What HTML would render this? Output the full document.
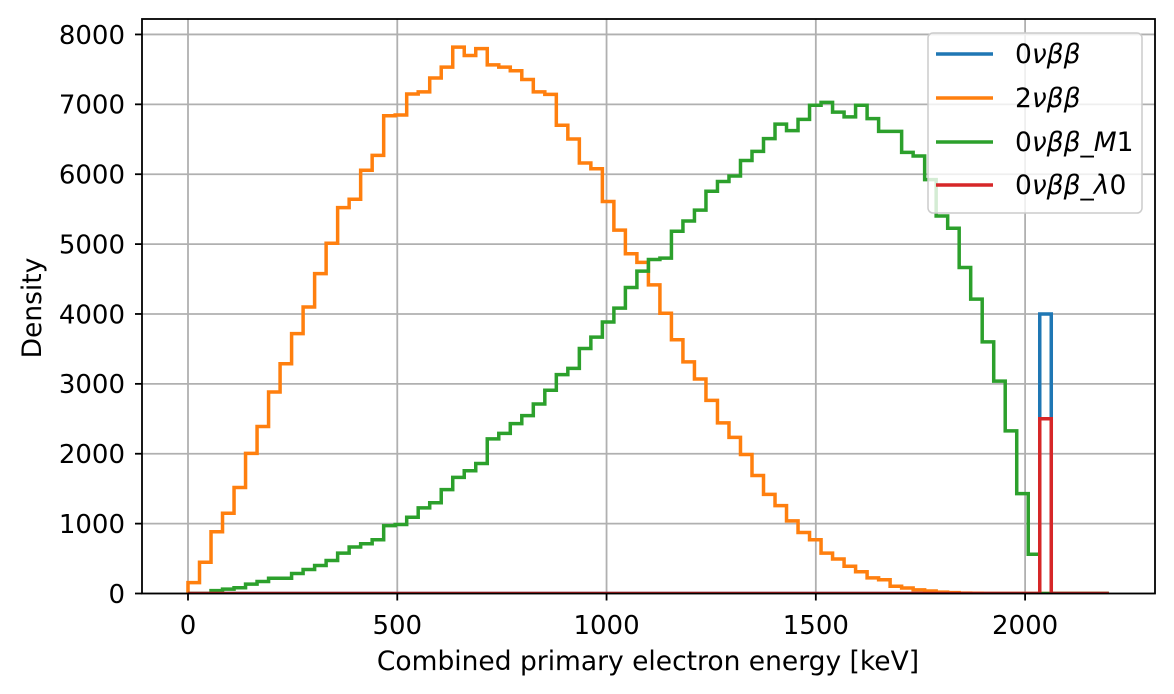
<!DOCTYPE html>
<html><head><meta charset="utf-8"><style>
html,body{margin:0;padding:0;background:#fff;}
svg{display:block;font-family:"DejaVu Sans","Liberation Sans",sans-serif;}
</style></head><body>
<svg id="s" width="1174" height="694" viewBox="0 0 1174 694" xmlns="http://www.w3.org/2000/svg">
<defs><clipPath id="c"><rect x="142" y="19" width="1013" height="575"/></clipPath></defs>
<g id="grid" stroke="#b0b0b0" stroke-width="1.8"></g>
<g id="hist" clip-path="url(#c)" fill="none" stroke-width="3.5" stroke-linejoin="miter"></g>
<rect x="142" y="19" width="1013" height="574.5" fill="none" stroke="#000" stroke-width="1.8"/>
<g id="ticks" stroke="#000" stroke-width="1.8"></g>
<g id="labels" font-size="26" fill="#000"></g>
<text x="648" y="670" font-size="26.5" text-anchor="middle">Combined primary electron energy [keV]</text>
<text transform="translate(41,308) rotate(-90)" font-size="26.5" text-anchor="middle">Density</text>
<g>
<rect x="928" y="33" width="214" height="180" rx="5" fill="#fff" fill-opacity="0.8" stroke="#cccccc" stroke-width="1.5"/>
<line x1="936" y1="54" x2="993" y2="54" stroke="#1f77b4" stroke-width="3.5"/>
<line x1="936" y1="98" x2="993" y2="98" stroke="#ff7f0e" stroke-width="3.5"/>
<line x1="936" y1="142" x2="993" y2="142" stroke="#2ca02c" stroke-width="3.5"/>
<line x1="936" y1="185" x2="993" y2="185" stroke="#d62728" stroke-width="3.5"/>
<g font-size="26.5">
<text x="1015" y="63">0<tspan font-style="italic">νββ</tspan></text>
<text x="1015" y="107">2<tspan font-style="italic">νββ</tspan></text>
<text x="1015" y="151">0<tspan font-style="italic">νββ_M</tspan>1</text>
<text x="1015" y="194">0<tspan font-style="italic">νββ_λ</tspan>0</text>
</g>
</g>
</svg>
<script>
var NS="http://www.w3.org/2000/svg";
function X(k){return 188+k*0.41855;}
function Y(v){return 593.5-v*0.06988;}
function el(p,t,a){var e=document.createElementNS(NS,t);for(var k in a)e.setAttribute(k,a[k]);p.appendChild(e);return e;}
var grid=document.getElementById('grid'),ticks=document.getElementById('ticks'),labels=document.getElementById('labels');
for(var k=0;k<=2000;k+=500){var x=X(k);el(grid,'line',{x1:x,y1:19,x2:x,y2:593.5});el(ticks,'line',{x1:x,y1:593.5,x2:x,y2:600.5});
var t=el(labels,'text',{x:x,y:634,'text-anchor':'middle'});t.textContent=k;}
for(var v=0;v<=8000;v+=1000){var y=Y(v);el(grid,'line',{x1:142,y1:y,x2:1155,y2:y});el(ticks,'line',{x1:135,y1:y,x2:142,y2:y});
var t=el(labels,'text',{x:125,y:y+9.3,'text-anchor':'end'});t.textContent=v;}
var W=27.5;
function path(vals,col){var d='M'+X(0)+','+Y(0);for(var i=0;i<80;i++){var v=vals[i]||0;d+=' L'+X(i*W)+','+Y(v)+' L'+X((i+1)*W)+','+Y(v);}d+=' L'+X(2200)+','+Y(0);
el(document.getElementById('hist'),'path',{d:d,stroke:col});}
var blue=[];blue[74]=4000;
var orange=[156,447,883,1148,1517,2005,2390,2883,3288,3719,4099,4577,5013,5522,5642,6057,6270,6836,6847,7148,7179,7377,7532,7818,7699,7797,7564,7532,7480,7356,7179,7143,6701,6504,6161,6078,5610,5200,4862,4738,4416,4010,3631,3314,3070,2764,2442,2234,1990,1688,1418,1257,1039,873,769,577,494,390,312,223,197,104,78,52,36,20,12,6,3];
var green=[0,0,42,62,83,135,171,218,218,286,343,400,473,577,665,712,769,971,987,1091,1226,1299,1486,1662,1756,1860,2213,2291,2431,2545,2712,2909,3132,3221,3506,3668,3886,4083,4379,4613,4779,4800,5184,5330,5486,5756,5896,5974,6197,6327,6509,6717,6623,6784,6987,7029,6888,6821,6987,6795,6613,6613,6312,6260,5922,5403,5226,4665,4213,3600,3039,2327,1429,561];
var red=[];red[74]=2500;
path(blue,'#1f77b4');path(orange,'#ff7f0e');path(green,'#2ca02c');path(red,'#d62728');
</script>
</body></html>
